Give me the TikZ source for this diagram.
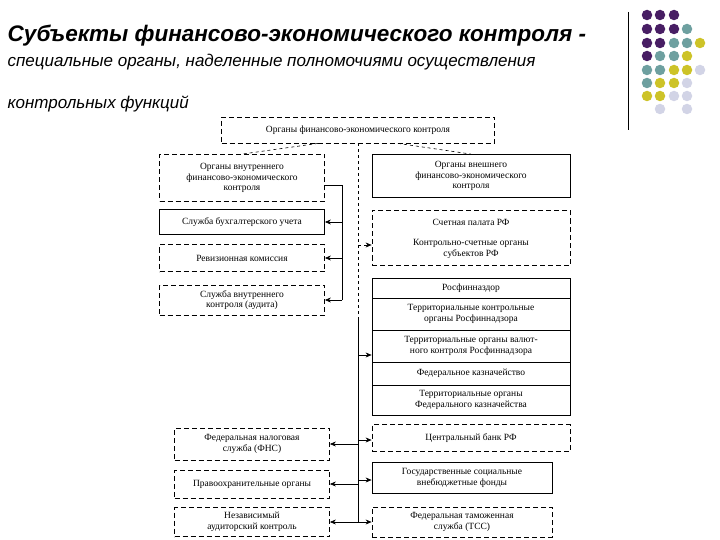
\documentclass[tikz,border=0pt]{standalone}
\usepackage{fontspec}
\setmainfont{Liberation Serif}
\newfontfamily\titlefont{Liberation Sans}
\usetikzlibrary{arrows.meta}
\definecolor{dp}{RGB}{72,30,100}
\definecolor{dt}{RGB}{110,160,160}
\definecolor{dy}{RGB}{205,195,40}
\definecolor{dl}{RGB}{210,212,230}
\begin{document}
\begin{tikzpicture}[x=1pt,y=-1pt,
  bx/.style={draw,line width=0.8pt,inner sep=1pt,align=center,font=\fontsize{9.5}{10.5}\selectfont},
  dbx/.style={bx,dash pattern=on 5pt off 3pt},
  arr/.style={-{Stealth[length=6pt,width=5pt]},line width=0.6pt},
  dot/.style={circle,inner sep=0pt,minimum size=10.5pt}]
\useasboundingbox (0,0) rectangle (720,540);
% title
\node[anchor=west,font=\titlefont\bfseries\itshape\fontsize{22.5}{24}\selectfont] (t1) at (4,36) {Субъекты финансово-экономического контроля -};
\node[anchor=west,font=\titlefont\itshape\fontsize{17}{19}\selectfont] (t2) at (4,62) {специальные органы, наделенные полномочиями осуществления};
\node[anchor=west,font=\titlefont\itshape\fontsize{17}{19}\selectfont] (t3) at (4,104) {контрольных функций};
\draw[line width=0.8pt] (628,12) -- (628,130);
% dots
\foreach \c/\x/\y in {dp/647/15,dp/660/15,dp/674/15,
 dp/647/29,dp/660/29,dp/674/29,dt/687/29,
 dp/647/43,dp/660/43,dt/674/43,dt/687/43,dy/700/43,
 dp/647/56,dt/660/56,dt/674/56,dy/687/56,
 dt/647/70,dt/660/70,dy/674/70,dy/687/70,dl/700/70,
 dt/647/83,dy/660/83,dy/674/83,dl/687/83,
 dy/647/96,dy/660/96,dl/674/96,dl/687/96,
 dl/660/109,dl/687/109}
 \node[dot,fill=\c] at (\x,\y) {};
% boxes
\node[dbx,minimum width=273,minimum height=26] (top) at (358,130) {Органы финансово-экономического контроля};
\node[dbx,minimum width=165,minimum height=47] (inn) at (242,178) {Органы внутреннего\\финансово-экономического\\контроля};
\node[bx,minimum width=165,minimum height=25] (l1) at (242,222) {Служба бухгалтерского учета};
\node[dbx,minimum width=165,minimum height=27] (l2) at (242,258) {Ревизионная комиссия};
\node[dbx,minimum width=165,minimum height=30] (l3) at (242,300) {Служба внутреннего\\контроля (аудита)};
\node[dbx,minimum width=155,minimum height=32] (l4) at (252,444) {Федеральная налоговая\\служба (ФНС)};
\node[dbx,minimum width=155,minimum height=28] (l5) at (252,484) {Правоохранительные органы};
\node[dbx,minimum width=155,minimum height=29] (l6) at (252,522) {Независимый\\аудиторский контроль};
\node[bx,minimum width=198,minimum height=43] (ext) at (471,176) {Органы внешнего\\финансово-экономического\\контроля};
\node[dbx,minimum width=198,minimum height=55] (r1) at (471,238) {};
\node[font=\fontsize{9.5}{10.5}\selectfont] (r1a) at (471,222) {Счетная палата РФ};
\node[align=center,font=\fontsize{9.5}{10.5}\selectfont] (r1b) at (471,249) {Контрольно-счетные органы\\субъектов РФ};
\node[bx,minimum width=198,minimum height=20] (r2) at (471,288) {Росфинназдор};
\node[bx,minimum width=198,minimum height=32] (r3) at (471,314) {Территориальные контрольные\\органы Росфиннадзора};
\node[bx,minimum width=198,minimum height=32] (r4) at (471,346) {Территориальные органы валют-\\ного контроля Росфиннадзора};
\node[bx,minimum width=198,minimum height=23] (r5) at (471,373.5) {Федеральное казначейство};
\node[bx,minimum width=198,minimum height=30] (r6) at (471,400) {Территориальные органы\\Федерального казначейства};
\node[dbx,minimum width=198,minimum height=27] (r7) at (471,438) {Центральный банк РФ};
\node[bx,minimum width=180,minimum height=31] (r8) at (462,478) {Государственные социальные\\внебюджетные фонды};
\node[dbx,minimum width=180,minimum height=30] (r9) at (462,522) {Федеральная таможенная\\служба (ТСС)};
% connectors
\coordinate (bl) at (342,185);
\coordinate (bc) at (358,178);
\coordinate (bb) at (358,522);
\draw[line width=0.6pt] (inn.east |- bl) -- (bl) -- (342,300);
\draw[arr] (342,222) -- (l1.east);
\draw[arr] (342,258) -- (l2.east);
\draw[arr] (342,300) -- (l3.east);
\draw[line width=0.6pt,dashed] (top.south) -- (bc) -- (358,320);
\draw[line width=0.6pt] (358,320) -- (bb);
\draw[line width=0.6pt,dashed] (top.south) ++(-40,0) -- (inn.north);
\draw[line width=0.6pt,dashed] (top.south) ++(40,0) -- (ext.north);
\draw[arr,dashed] (358,245) -- (r1.west |- 0,245);
\draw[arr] (358,355) -- (r4.west |- 0,355);
\draw[arr] (358,440) -- (r7.west |- 0,440);
\draw[arr] (358,480) -- (r8.west |- 0,480);
\draw[arr] (358,522) -- (r9.west);
\draw[arr] (358,444) -- (l4.east);
\draw[arr] (358,484) -- (l5.east);
\draw[arr] (358,522) -- (l6.east);
\end{tikzpicture}
\end{document}
